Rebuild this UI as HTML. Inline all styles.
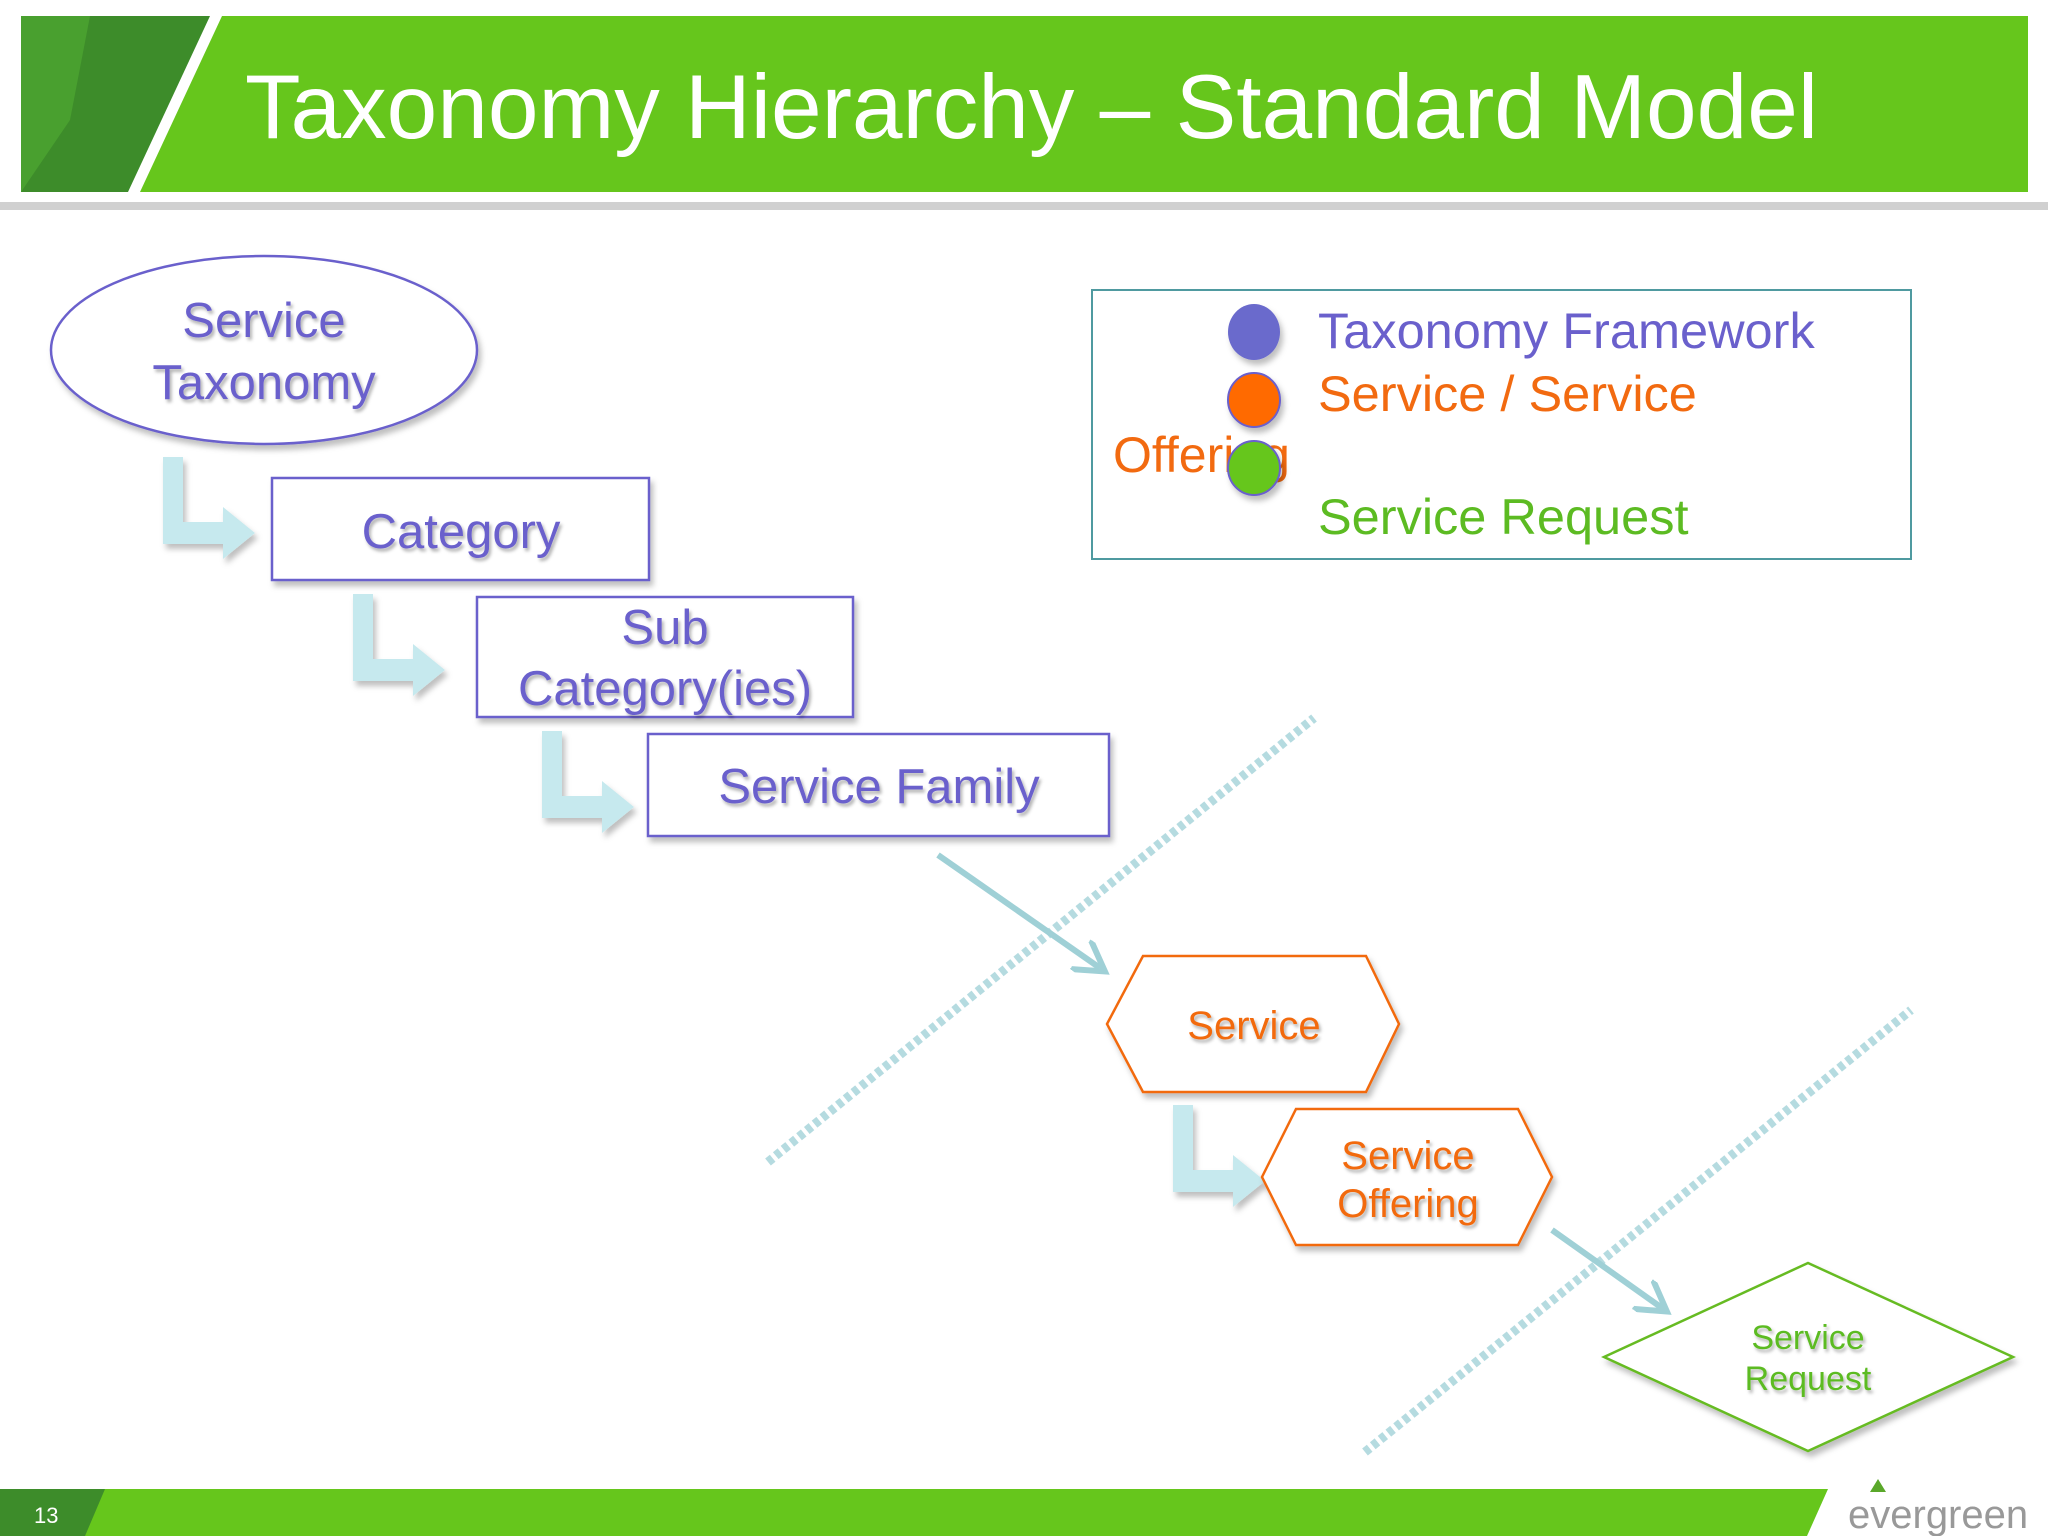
<!DOCTYPE html>
<html><head><meta charset="utf-8"><style>
html,body{margin:0;padding:0;background:#fff;}
svg{display:block;}
text{font-family:"Liberation Sans",sans-serif;}
</style></head><body>
<svg width="2048" height="1536" viewBox="0 0 2048 1536" xmlns="http://www.w3.org/2000/svg">
<defs>
<filter id="ts" x="-10%" y="-20%" width="130%" height="160%"><feDropShadow dx="2" dy="3" stdDeviation="1.5" flood-color="#000" flood-opacity="0.3"/></filter>
<filter id="bs" x="-10%" y="-10%" width="130%" height="130%"><feDropShadow dx="3" dy="5" stdDeviation="3" flood-color="#000" flood-opacity="0.25"/></filter>
<marker id="ah" markerWidth="6" markerHeight="6" refX="4" refY="3" orient="auto" markerUnits="strokeWidth"><path d="M0,0 L5,3 L0,6" fill="none" stroke="#9fd0d6" stroke-width="1"/></marker>
</defs>
<!-- header -->
<rect x="0" y="202" width="2048" height="8" fill="#d0d0d0"/>
<rect x="21" y="16" width="2007" height="176" fill="#66c61c"/>
<polygon points="21,16 212,16 130,192 21,192" fill="#3d8c2a"/>
<polygon points="21,16 90,16 70,120 21,192" fill="#4ea832" opacity="0.7"/>
<polygon points="210,16 222,16 140,192 128,192" fill="#fff"/>
<text x="245" y="138" font-size="91" fill="#fff">Taxonomy Hierarchy – Standard Model</text>
<!-- footer -->
<polygon points="0,1489 1828,1489 1807,1536 0,1536" fill="#66c61c"/>
<polygon points="0,1489 105,1489 85,1536 0,1536" fill="#3d8c2a"/>
<text x="34" y="1523" font-size="22" fill="#fff">13</text>
<polygon points="1878,1479 1886,1492 1870,1492" fill="#5aa82a"/>
<text x="1848" y="1528" font-size="40" fill="#999" letter-spacing="0">evergreen</text>
<!-- dashed lines -->
<line x1="768" y1="1162" x2="1314" y2="718" stroke="#b5dbe0" stroke-width="9" stroke-dasharray="6,4"/>
<line x1="1365" y1="1452" x2="1911" y2="1010" stroke="#b5dbe0" stroke-width="9" stroke-dasharray="6,4"/>
<!-- bent arrows -->
<g fill="#c6e9ee" filter="url(#bs)">
<path d="M163,457 h20 v65 h40 v-15 l32,26 l-32,26 v-15 h-60 z"/>
<path d="M353,594 h20 v65 h40 v-15 l32,26 l-32,26 v-15 h-60 z"/>
<path d="M542,731 h20 v65 h40 v-15 l32,26 l-32,26 v-15 h-60 z"/>
<path d="M1173,1105 h20 v65 h40 v-15 l32,26 l-32,26 v-15 h-60 z"/>
</g>
<!-- diagonal arrows -->
<line x1="938" y1="855" x2="1100" y2="968" stroke="#9fd0d6" stroke-width="6" marker-end="url(#ah)"/>
<line x1="1552" y1="1230" x2="1662" y2="1308" stroke="#9fd0d6" stroke-width="6" marker-end="url(#ah)"/>
<!-- taxonomy shapes -->
<g fill="#fff" stroke="#6a60cc" stroke-width="2.5" filter="url(#bs)">
<ellipse cx="264" cy="350" rx="213" ry="94"/>
<rect x="272" y="478" width="377" height="102"/>
<rect x="477" y="597" width="376" height="120"/>
<rect x="648" y="734" width="461" height="102"/>
</g>
<g fill="#6a60cc" font-size="49" text-anchor="middle" filter="url(#ts)">
<text x="264" y="337">Service</text>
<text x="264" y="399">Taxonomy</text>
<text x="461" y="548">Category</text>
<text x="665" y="644">Sub</text>
<text x="665" y="705">Category(ies)</text>
<text x="879" y="803">Service Family</text>
</g>
<!-- service shapes -->
<g fill="#fff" stroke="#f26a10" stroke-width="2.5" filter="url(#bs)">
<polygon points="1107,1024 1143,956 1366,956 1399,1024 1366,1092 1143,1092"/>
<polygon points="1262,1177 1296,1109 1518,1109 1552,1177 1518,1245 1296,1245"/>
</g>
<g fill="#f26a10" font-size="40" text-anchor="middle" filter="url(#ts)">
<text x="1254" y="1039">Service</text>
<text x="1408" y="1169">Service</text>
<text x="1408" y="1217">Offering</text>
</g>
<polygon points="1604,1357 1808,1263 2013,1357 1808,1451" fill="#fff" stroke="#66bb22" stroke-width="2.5" filter="url(#bs)"/>
<g fill="#5cbb22" font-size="34" text-anchor="middle" filter="url(#ts)">
<text x="1808" y="1349">Service</text>
<text x="1808" y="1390">Request</text>
</g>
<!-- legend -->
<rect x="1092" y="290" width="819" height="269" fill="#fff" stroke="#4f9aa0" stroke-width="2"/>
<text x="1113" y="472" font-size="50" fill="#f26a10">Offering</text>
<g filter="url(#bs)">
<ellipse cx="1254" cy="332" rx="26" ry="28" fill="#6a6acc"/>
<ellipse cx="1254" cy="400" rx="26" ry="27" fill="#ff6a00" stroke="#6a60cc" stroke-width="2"/>
<ellipse cx="1254" cy="468" rx="26" ry="27" fill="#66c61c" stroke="#6a60cc" stroke-width="2"/>
</g>
<text x="1318" y="348" font-size="50.5" fill="#6a60cc">Taxonomy Framework</text>
<text x="1318" y="411" font-size="50.5" fill="#f26a10">Service / Service</text>
<text x="1318" y="534" font-size="50.5" fill="#5cbb22">Service Request</text>
</svg>
</body></html>
